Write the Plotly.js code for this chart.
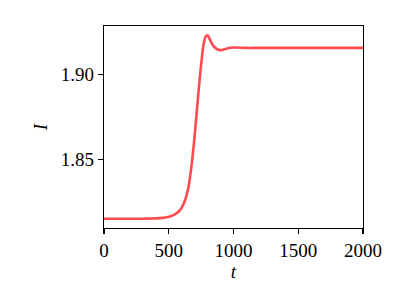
<!DOCTYPE html>
<html>
<head>
<meta charset="utf-8">
<script src="https://cdn.plot.ly/plotly-3.0.1.min.js"></script>
<style>html,body{margin:0;padding:0;background:#fff;}#chart{width:407px;height:305px;}</style>
</head>
<body>
<div id="chart"></div>
<script>
const tValues = [0, 100, 200, 300, 350, 400, 450, 500, 525, 550, 575, 600, 625, 650, 675, 700, 725, 750, 770, 785, 800, 815, 830, 850, 875, 900, 925, 950, 1000, 1100, 1200, 1500, 2000];
const iValues = [1.8155, 1.8155, 1.8155, 1.8155, 1.8156, 1.8157, 1.8160, 1.8167, 1.8173, 1.8182, 1.8196, 1.8220, 1.8262, 1.8330, 1.8460, 1.8640, 1.8855, 1.9055, 1.9178, 1.9220, 1.9227, 1.9207, 1.9183, 1.9160, 1.9145, 1.9140, 1.9144, 1.9150, 1.9155, 1.9153, 1.9153, 1.9153, 1.9153];
const xTicks = [0, 500, 1000, 1500, 2000];
const xTickLabels = ["0", "500", "1000", "1500", "2000"];
const yTicks = [1.85, 1.90];
const yTickLabels = ["1.85", "1.90"];

const font = {family: "Liberation Serif, DejaVu Serif, serif", size: 19, color: "#000"};

Plotly.newPlot("chart", [{
  x: tValues, y: iValues, type: "scatter", mode: "lines",
  line: {color: "#ff4a50", width: 2.6, shape: "spline", smoothing: 1},
  hoverinfo: "skip"
}], {
  width: 407, height: 305,
  margin: {l: 104, r: 44, t: 26, b: 77, pad: 0},
  paper_bgcolor: "#fff", plot_bgcolor: "#fff",
  showlegend: false,
  font: font,
  xaxis: {
    range: [0, 2000], tickvals: xTicks, ticktext: xTickLabels,
    showgrid: false, zeroline: false, showline: true, mirror: true,
    linecolor: "#000", linewidth: 1.1, ticks: "outside", ticklen: 5, tickwidth: 1.1, tickcolor: "#000",
    tickfont: font,
    title: {text: "<i>t</i>", font: font, standoff: 4}
  },
  yaxis: {
    range: [1.8101, 1.9281], tickvals: yTicks, ticktext: yTickLabels,
    showgrid: false, zeroline: false, showline: true, mirror: true,
    linecolor: "#000", linewidth: 1.1, ticks: "outside", ticklen: 5, tickwidth: 1.1, tickcolor: "#000",
    tickfont: font,
    title: {text: "<i>I</i>", font: font, standoff: 8}
  }
}, {staticPlot: true, displayModeBar: false});
</script>
</body>
</html>
